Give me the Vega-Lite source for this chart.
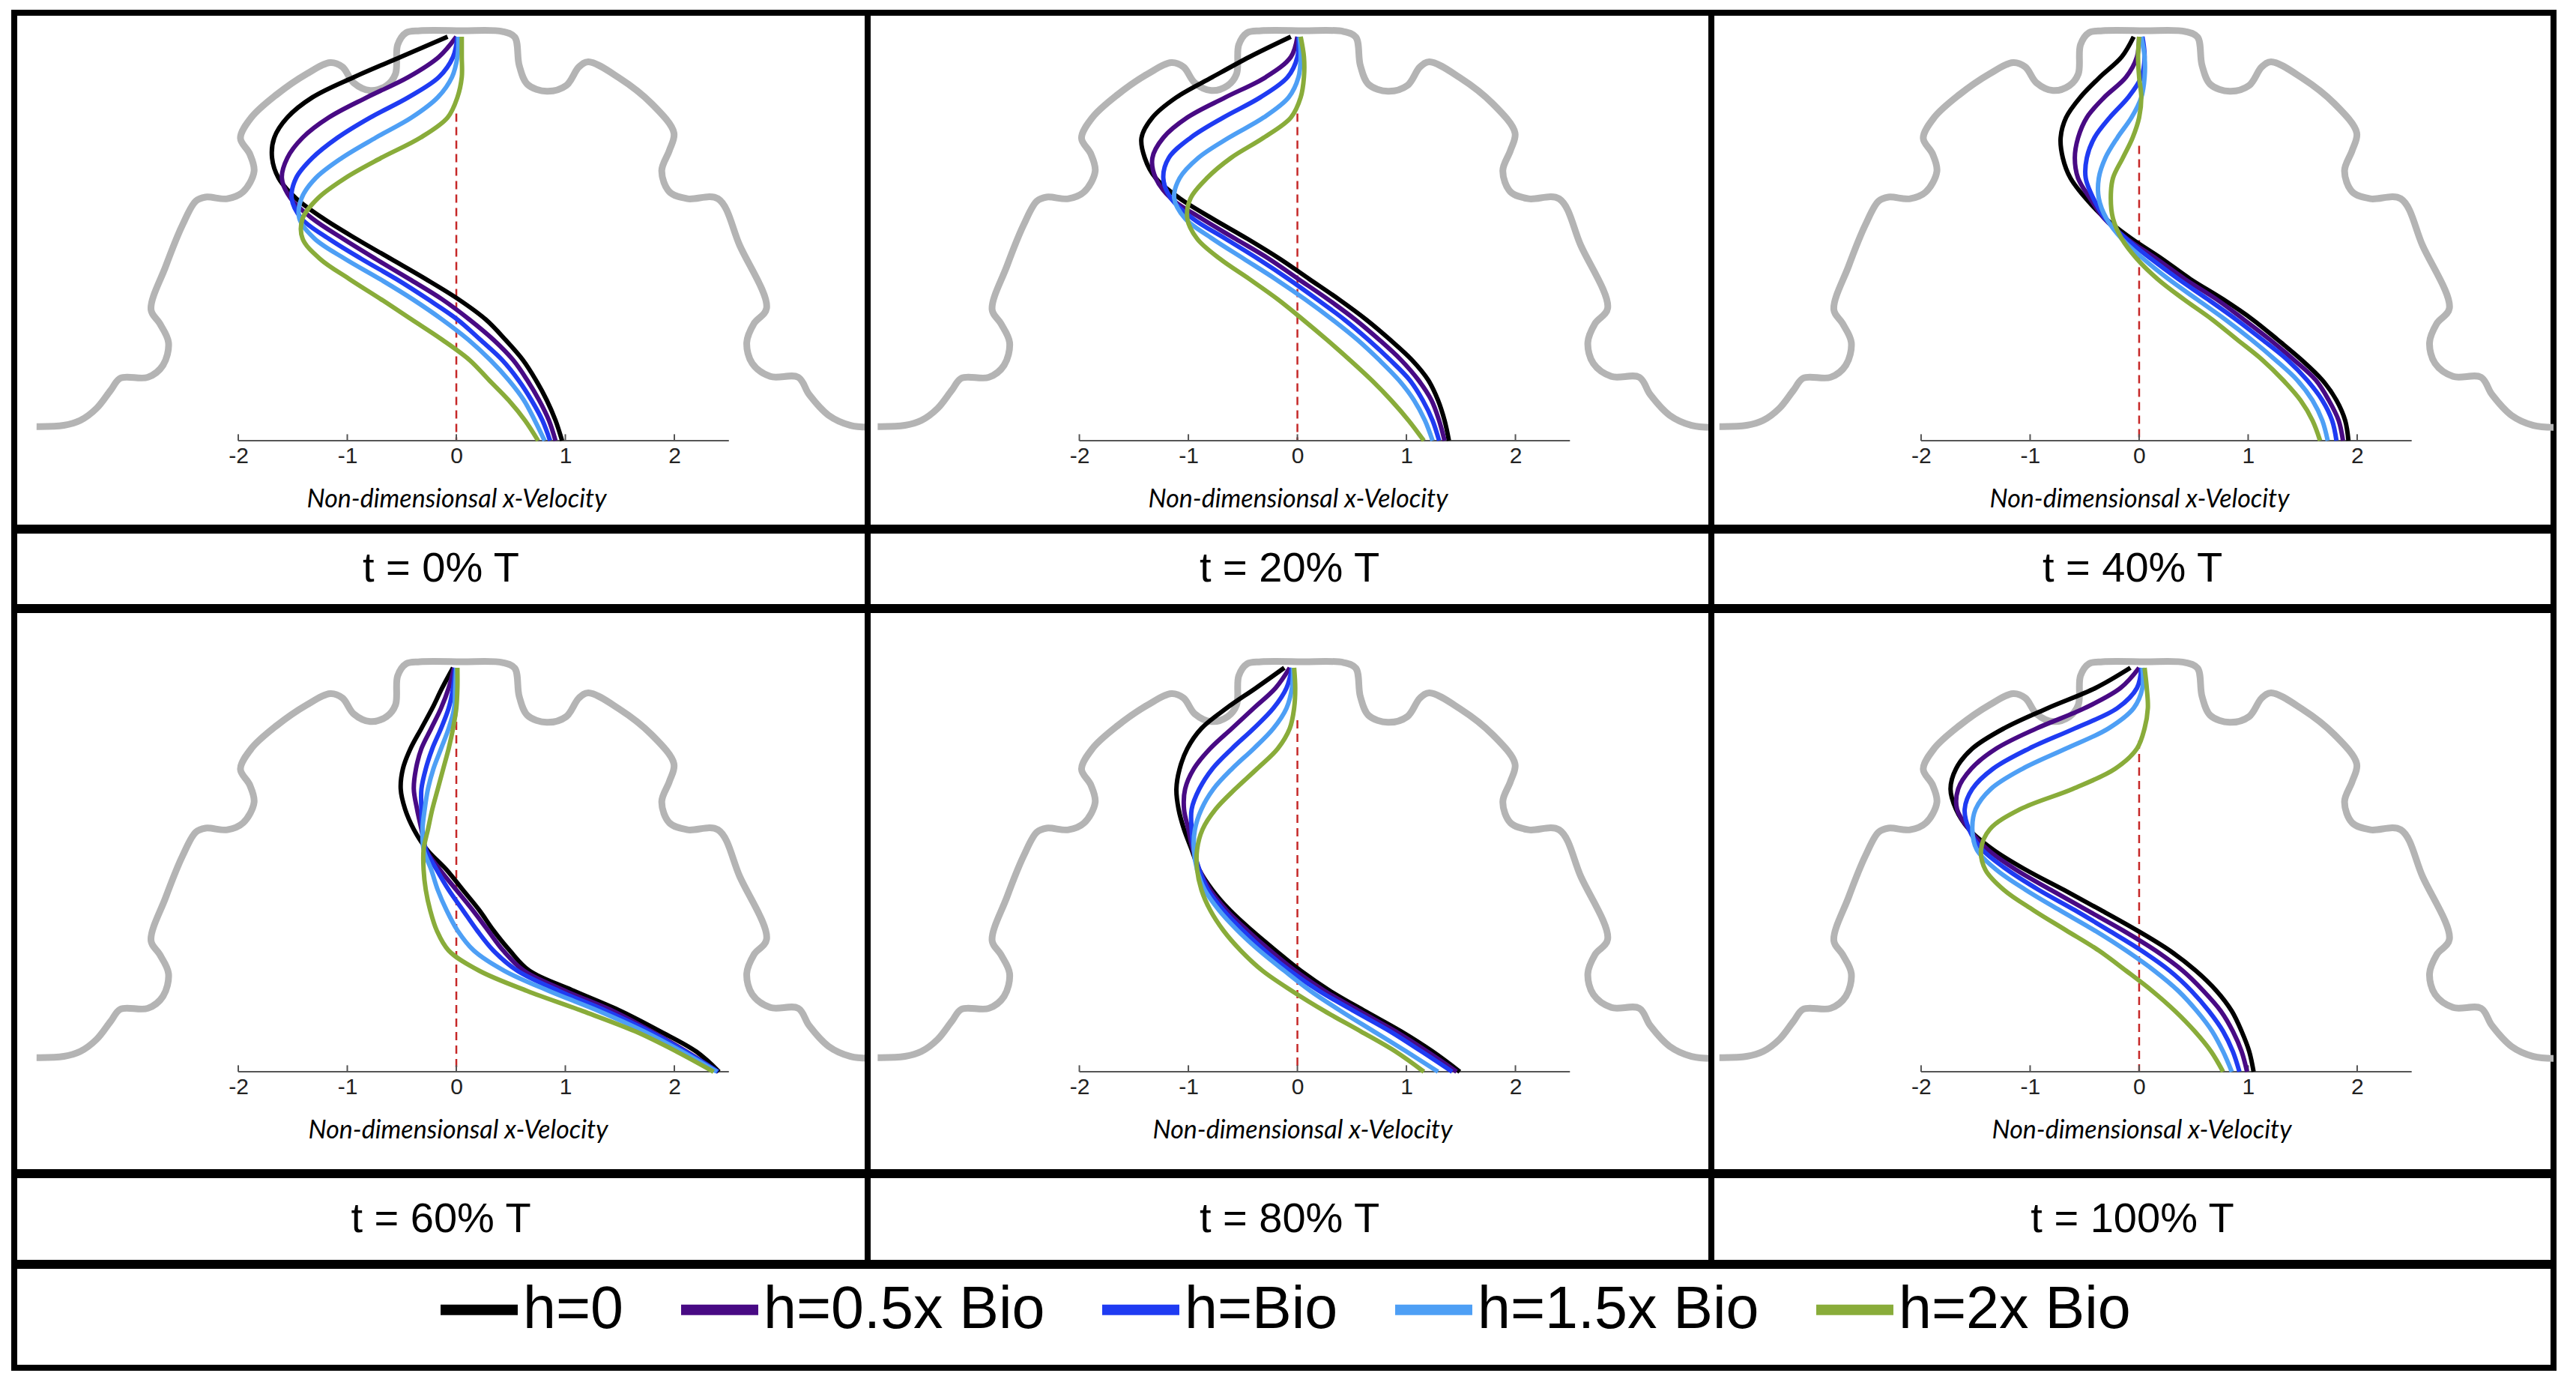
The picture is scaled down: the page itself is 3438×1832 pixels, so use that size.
{
  "$schema": "https://vega.github.io/schema/vega-lite/v6.json",
  "description": "Velocity profiles for five h values at six times of the cycle",
  "background": "white",
  "padding": {"left": 15, "top": 13, "right": 0, "bottom": 0},
  "config": {
    "view": {"stroke": "#000000", "strokeWidth": 8},
    "concat": {"spacing": 0},
    "font": "Liberation Sans"
  },
  "datasets": {
    "ticks": [{"x": -2}, {"x": -1}, {"x": 0}, {"x": 1}, {"x": 2}],
    "zero": [{"p": 1, "top": 0.81}, {"p": 2, "top": 0.81}, {"p": 3, "top": 0.73}, {"p": 4, "top": 0.9}, {"p": 5, "top": 0.87}, {"p": 6, "top": 0.82}],
    "outline": [
      {"i": 0, "x": -3.85, "y": 0.035}, {"i": 1, "x": -3.6, "y": 0.038}, {"i": 2, "x": -3.45, "y": 0.05}, {"i": 3, "x": -3.3, "y": 0.08},
      {"i": 4, "x": -3.17, "y": 0.125}, {"i": 5, "x": -3.08, "y": 0.155}, {"i": 6, "x": -2.83, "y": 0.157}, {"i": 7, "x": -2.69, "y": 0.187},
      {"i": 8, "x": -2.64, "y": 0.243}, {"i": 9, "x": -2.72, "y": 0.29}, {"i": 10, "x": -2.8, "y": 0.324}, {"i": 11, "x": -2.665, "y": 0.432},
      {"i": 12, "x": -2.51, "y": 0.535}, {"i": 13, "x": -2.39, "y": 0.593}, {"i": 14, "x": -2.3, "y": 0.603}, {"i": 15, "x": -2.1, "y": 0.599},
      {"i": 16, "x": -1.956, "y": 0.616}, {"i": 17, "x": -1.855, "y": 0.667}, {"i": 18, "x": -1.895, "y": 0.71}, {"i": 19, "x": -1.98, "y": 0.749},
      {"i": 20, "x": -1.88, "y": 0.8}, {"i": 21, "x": -1.652, "y": 0.856}, {"i": 22, "x": -1.373, "y": 0.908}, {"i": 23, "x": -1.155, "y": 0.936},
      {"i": 24, "x": -1.044, "y": 0.925}, {"i": 25, "x": -0.942, "y": 0.886}, {"i": 26, "x": -0.79, "y": 0.867}, {"i": 27, "x": -0.64, "y": 0.879},
      {"i": 28, "x": -0.558, "y": 0.908}, {"i": 29, "x": -0.538, "y": 0.98}, {"i": 30, "x": -0.46, "y": 1.01}, {"i": 31, "x": -0.335, "y": 1.015},
      {"i": 32, "x": 0.045, "y": 1.015}, {"i": 33, "x": 0.425, "y": 1.013}, {"i": 34, "x": 0.536, "y": 0.999}, {"i": 35, "x": 0.577, "y": 0.929},
      {"i": 36, "x": 0.653, "y": 0.882}, {"i": 37, "x": 0.83, "y": 0.865}, {"i": 38, "x": 1.008, "y": 0.879}, {"i": 39, "x": 1.124, "y": 0.925},
      {"i": 40, "x": 1.21, "y": 0.938}, {"i": 41, "x": 1.489, "y": 0.899}, {"i": 42, "x": 1.793, "y": 0.834}, {"i": 43, "x": 1.996, "y": 0.762},
      {"i": 44, "x": 1.955, "y": 0.719}, {"i": 45, "x": 1.884, "y": 0.668}, {"i": 46, "x": 1.955, "y": 0.616}, {"i": 47, "x": 2.12, "y": 0.599},
      {"i": 48, "x": 2.4, "y": 0.599}, {"i": 49, "x": 2.6, "y": 0.483}, {"i": 50, "x": 2.846, "y": 0.328}, {"i": 51, "x": 2.73, "y": 0.29},
      {"i": 52, "x": 2.664, "y": 0.243}, {"i": 53, "x": 2.715, "y": 0.191}, {"i": 54, "x": 2.88, "y": 0.159}, {"i": 55, "x": 3.136, "y": 0.157},
      {"i": 56, "x": 3.237, "y": 0.114}, {"i": 57, "x": 3.414, "y": 0.063}, {"i": 58, "x": 3.616, "y": 0.038}, {"i": 59, "x": 3.85, "y": 0.033}
    ],
    "curves": [
      {"p":1,"h":"h=0","y":1,"x":-0.08},{"p":1,"h":"h=0","y":0.95,"x":-0.51},{"p":1,"h":"h=0","y":0.9,"x":-0.94},{"p":1,"h":"h=0","y":0.85,"x":-1.32},{"p":1,"h":"h=0","y":0.8,"x":-1.55},{"p":1,"h":"h=0","y":0.75,"x":-1.67},{"p":1,"h":"h=0","y":0.7,"x":-1.69},{"p":1,"h":"h=0","y":0.65,"x":-1.63},{"p":1,"h":"h=0","y":0.6,"x":-1.47},{"p":1,"h":"h=0","y":0.55,"x":-1.22},{"p":1,"h":"h=0","y":0.5,"x":-0.92},{"p":1,"h":"h=0","y":0.45,"x":-0.6},{"p":1,"h":"h=0","y":0.4,"x":-0.28},{"p":1,"h":"h=0","y":0.35,"x":0.02},{"p":1,"h":"h=0","y":0.3,"x":0.27},{"p":1,"h":"h=0","y":0.25,"x":0.45},{"p":1,"h":"h=0","y":0.2,"x":0.61},{"p":1,"h":"h=0","y":0.15,"x":0.73},{"p":1,"h":"h=0","y":0.1,"x":0.83},{"p":1,"h":"h=0","y":0.05,"x":0.91},{"p":1,"h":"h=0","y":0,"x":0.97},
      {"p":1,"h":"h=0.5x Bio","y":1,"x":0},{"p":1,"h":"h=0.5x Bio","y":0.95,"x":-0.16},{"p":1,"h":"h=0.5x Bio","y":0.9,"x":-0.44},{"p":1,"h":"h=0.5x Bio","y":0.85,"x":-0.82},{"p":1,"h":"h=0.5x Bio","y":0.8,"x":-1.17},{"p":1,"h":"h=0.5x Bio","y":0.75,"x":-1.41},{"p":1,"h":"h=0.5x Bio","y":0.7,"x":-1.55},{"p":1,"h":"h=0.5x Bio","y":0.65,"x":-1.6},{"p":1,"h":"h=0.5x Bio","y":0.6,"x":-1.52},{"p":1,"h":"h=0.5x Bio","y":0.55,"x":-1.32},{"p":1,"h":"h=0.5x Bio","y":0.5,"x":-1.04},{"p":1,"h":"h=0.5x Bio","y":0.45,"x":-0.74},{"p":1,"h":"h=0.5x Bio","y":0.4,"x":-0.43},{"p":1,"h":"h=0.5x Bio","y":0.35,"x":-0.13},{"p":1,"h":"h=0.5x Bio","y":0.3,"x":0.12},{"p":1,"h":"h=0.5x Bio","y":0.25,"x":0.34},{"p":1,"h":"h=0.5x Bio","y":0.2,"x":0.52},{"p":1,"h":"h=0.5x Bio","y":0.15,"x":0.65},{"p":1,"h":"h=0.5x Bio","y":0.1,"x":0.76},{"p":1,"h":"h=0.5x Bio","y":0.05,"x":0.85},{"p":1,"h":"h=0.5x Bio","y":0,"x":0.91},
      {"p":1,"h":"h=Bio","y":1,"x":0.01},{"p":1,"h":"h=Bio","y":0.95,"x":-0.03},{"p":1,"h":"h=Bio","y":0.9,"x":-0.16},{"p":1,"h":"h=Bio","y":0.85,"x":-0.44},{"p":1,"h":"h=Bio","y":0.8,"x":-0.79},{"p":1,"h":"h=Bio","y":0.75,"x":-1.09},{"p":1,"h":"h=Bio","y":0.7,"x":-1.32},{"p":1,"h":"h=Bio","y":0.65,"x":-1.47},{"p":1,"h":"h=Bio","y":0.6,"x":-1.51},{"p":1,"h":"h=Bio","y":0.55,"x":-1.42},{"p":1,"h":"h=Bio","y":0.5,"x":-1.17},{"p":1,"h":"h=Bio","y":0.45,"x":-0.87},{"p":1,"h":"h=Bio","y":0.4,"x":-0.55},{"p":1,"h":"h=Bio","y":0.35,"x":-0.26},{"p":1,"h":"h=Bio","y":0.3,"x":0.01},{"p":1,"h":"h=Bio","y":0.25,"x":0.22},{"p":1,"h":"h=Bio","y":0.2,"x":0.42},{"p":1,"h":"h=Bio","y":0.15,"x":0.57},{"p":1,"h":"h=Bio","y":0.1,"x":0.69},{"p":1,"h":"h=Bio","y":0.05,"x":0.79},{"p":1,"h":"h=Bio","y":0,"x":0.86},
      {"p":1,"h":"h=1.5x Bio","y":1,"x":0.02},{"p":1,"h":"h=1.5x Bio","y":0.95,"x":0.01},{"p":1,"h":"h=1.5x Bio","y":0.9,"x":-0.04},{"p":1,"h":"h=1.5x Bio","y":0.85,"x":-0.17},{"p":1,"h":"h=1.5x Bio","y":0.8,"x":-0.41},{"p":1,"h":"h=1.5x Bio","y":0.75,"x":-0.74},{"p":1,"h":"h=1.5x Bio","y":0.7,"x":-1.05},{"p":1,"h":"h=1.5x Bio","y":0.65,"x":-1.29},{"p":1,"h":"h=1.5x Bio","y":0.6,"x":-1.42},{"p":1,"h":"h=1.5x Bio","y":0.55,"x":-1.44},{"p":1,"h":"h=1.5x Bio","y":0.5,"x":-1.3},{"p":1,"h":"h=1.5x Bio","y":0.45,"x":-1.02},{"p":1,"h":"h=1.5x Bio","y":0.4,"x":-0.7},{"p":1,"h":"h=1.5x Bio","y":0.35,"x":-0.4},{"p":1,"h":"h=1.5x Bio","y":0.3,"x":-0.13},{"p":1,"h":"h=1.5x Bio","y":0.25,"x":0.11},{"p":1,"h":"h=1.5x Bio","y":0.2,"x":0.31},{"p":1,"h":"h=1.5x Bio","y":0.15,"x":0.48},{"p":1,"h":"h=1.5x Bio","y":0.1,"x":0.62},{"p":1,"h":"h=1.5x Bio","y":0.05,"x":0.72},{"p":1,"h":"h=1.5x Bio","y":0,"x":0.81},
      {"p":1,"h":"h=2x Bio","y":1,"x":0.05},{"p":1,"h":"h=2x Bio","y":0.95,"x":0.05},{"p":1,"h":"h=2x Bio","y":0.9,"x":0.05},{"p":1,"h":"h=2x Bio","y":0.85,"x":0.01},{"p":1,"h":"h=2x Bio","y":0.8,"x":-0.08},{"p":1,"h":"h=2x Bio","y":0.75,"x":-0.33},{"p":1,"h":"h=2x Bio","y":0.7,"x":-0.69},{"p":1,"h":"h=2x Bio","y":0.65,"x":-1.02},{"p":1,"h":"h=2x Bio","y":0.6,"x":-1.27},{"p":1,"h":"h=2x Bio","y":0.55,"x":-1.41},{"p":1,"h":"h=2x Bio","y":0.5,"x":-1.41},{"p":1,"h":"h=2x Bio","y":0.45,"x":-1.25},{"p":1,"h":"h=2x Bio","y":0.4,"x":-0.98},{"p":1,"h":"h=2x Bio","y":0.35,"x":-0.69},{"p":1,"h":"h=2x Bio","y":0.3,"x":-0.41},{"p":1,"h":"h=2x Bio","y":0.25,"x":-0.13},{"p":1,"h":"h=2x Bio","y":0.2,"x":0.12},{"p":1,"h":"h=2x Bio","y":0.15,"x":0.3},{"p":1,"h":"h=2x Bio","y":0.1,"x":0.48},{"p":1,"h":"h=2x Bio","y":0.05,"x":0.63},{"p":1,"h":"h=2x Bio","y":0,"x":0.75},

      {"p":2,"h":"h=0","y":1,"x":-0.06},{"p":2,"h":"h=0","y":0.95,"x":-0.44},{"p":2,"h":"h=0","y":0.9,"x":-0.78},{"p":2,"h":"h=0","y":0.85,"x":-1.11},{"p":2,"h":"h=0","y":0.8,"x":-1.33},{"p":2,"h":"h=0","y":0.75,"x":-1.43},{"p":2,"h":"h=0","y":0.7,"x":-1.4},{"p":2,"h":"h=0","y":0.65,"x":-1.3},{"p":2,"h":"h=0","y":0.6,"x":-1.08},{"p":2,"h":"h=0","y":0.55,"x":-0.78},{"p":2,"h":"h=0","y":0.5,"x":-0.46},{"p":2,"h":"h=0","y":0.45,"x":-0.16},{"p":2,"h":"h=0","y":0.4,"x":0.11},{"p":2,"h":"h=0","y":0.35,"x":0.38},{"p":2,"h":"h=0","y":0.3,"x":0.63},{"p":2,"h":"h=0","y":0.25,"x":0.85},{"p":2,"h":"h=0","y":0.2,"x":1.05},{"p":2,"h":"h=0","y":0.15,"x":1.2},{"p":2,"h":"h=0","y":0.1,"x":1.29},{"p":2,"h":"h=0","y":0.05,"x":1.35},{"p":2,"h":"h=0","y":0,"x":1.39},
      {"p":2,"h":"h=0.5x Bio","y":1,"x":0},{"p":2,"h":"h=0.5x Bio","y":0.95,"x":-0.06},{"p":2,"h":"h=0.5x Bio","y":0.9,"x":-0.29},{"p":2,"h":"h=0.5x Bio","y":0.85,"x":-0.66},{"p":2,"h":"h=0.5x Bio","y":0.8,"x":-1.01},{"p":2,"h":"h=0.5x Bio","y":0.75,"x":-1.23},{"p":2,"h":"h=0.5x Bio","y":0.7,"x":-1.33},{"p":2,"h":"h=0.5x Bio","y":0.65,"x":-1.3},{"p":2,"h":"h=0.5x Bio","y":0.6,"x":-1.16},{"p":2,"h":"h=0.5x Bio","y":0.55,"x":-0.88},{"p":2,"h":"h=0.5x Bio","y":0.5,"x":-0.57},{"p":2,"h":"h=0.5x Bio","y":0.45,"x":-0.26},{"p":2,"h":"h=0.5x Bio","y":0.4,"x":0.01},{"p":2,"h":"h=0.5x Bio","y":0.35,"x":0.28},{"p":2,"h":"h=0.5x Bio","y":0.3,"x":0.53},{"p":2,"h":"h=0.5x Bio","y":0.25,"x":0.75},{"p":2,"h":"h=0.5x Bio","y":0.2,"x":0.95},{"p":2,"h":"h=0.5x Bio","y":0.15,"x":1.11},{"p":2,"h":"h=0.5x Bio","y":0.1,"x":1.23},{"p":2,"h":"h=0.5x Bio","y":0.05,"x":1.3},{"p":2,"h":"h=0.5x Bio","y":0,"x":1.35},
      {"p":2,"h":"h=Bio","y":1,"x":0.01},{"p":2,"h":"h=Bio","y":0.95,"x":0},{"p":2,"h":"h=Bio","y":0.9,"x":-0.09},{"p":2,"h":"h=Bio","y":0.85,"x":-0.34},{"p":2,"h":"h=Bio","y":0.8,"x":-0.68},{"p":2,"h":"h=Bio","y":0.75,"x":-0.98},{"p":2,"h":"h=Bio","y":0.7,"x":-1.18},{"p":2,"h":"h=Bio","y":0.65,"x":-1.23},{"p":2,"h":"h=Bio","y":0.6,"x":-1.16},{"p":2,"h":"h=Bio","y":0.55,"x":-0.96},{"p":2,"h":"h=Bio","y":0.5,"x":-0.66},{"p":2,"h":"h=Bio","y":0.45,"x":-0.36},{"p":2,"h":"h=Bio","y":0.4,"x":-0.08},{"p":2,"h":"h=Bio","y":0.35,"x":0.18},{"p":2,"h":"h=Bio","y":0.3,"x":0.43},{"p":2,"h":"h=Bio","y":0.25,"x":0.65},{"p":2,"h":"h=Bio","y":0.2,"x":0.85},{"p":2,"h":"h=Bio","y":0.15,"x":1.03},{"p":2,"h":"h=Bio","y":0.1,"x":1.15},{"p":2,"h":"h=Bio","y":0.05,"x":1.24},{"p":2,"h":"h=Bio","y":0,"x":1.3},
      {"p":2,"h":"h=1.5x Bio","y":1,"x":0.02},{"p":2,"h":"h=1.5x Bio","y":0.95,"x":0.03},{"p":2,"h":"h=1.5x Bio","y":0.9,"x":0.01},{"p":2,"h":"h=1.5x Bio","y":0.85,"x":-0.08},{"p":2,"h":"h=1.5x Bio","y":0.8,"x":-0.31},{"p":2,"h":"h=1.5x Bio","y":0.75,"x":-0.63},{"p":2,"h":"h=1.5x Bio","y":0.7,"x":-0.91},{"p":2,"h":"h=1.5x Bio","y":0.65,"x":-1.08},{"p":2,"h":"h=1.5x Bio","y":0.6,"x":-1.13},{"p":2,"h":"h=1.5x Bio","y":0.55,"x":-1.03},{"p":2,"h":"h=1.5x Bio","y":0.5,"x":-0.78},{"p":2,"h":"h=1.5x Bio","y":0.45,"x":-0.49},{"p":2,"h":"h=1.5x Bio","y":0.4,"x":-0.2},{"p":2,"h":"h=1.5x Bio","y":0.35,"x":0.07},{"p":2,"h":"h=1.5x Bio","y":0.3,"x":0.32},{"p":2,"h":"h=1.5x Bio","y":0.25,"x":0.55},{"p":2,"h":"h=1.5x Bio","y":0.2,"x":0.75},{"p":2,"h":"h=1.5x Bio","y":0.15,"x":0.93},{"p":2,"h":"h=1.5x Bio","y":0.1,"x":1.07},{"p":2,"h":"h=1.5x Bio","y":0.05,"x":1.17},{"p":2,"h":"h=1.5x Bio","y":0,"x":1.24},
      {"p":2,"h":"h=2x Bio","y":1,"x":0.03},{"p":2,"h":"h=2x Bio","y":0.95,"x":0.06},{"p":2,"h":"h=2x Bio","y":0.9,"x":0.06},{"p":2,"h":"h=2x Bio","y":0.85,"x":0.03},{"p":2,"h":"h=2x Bio","y":0.8,"x":-0.06},{"p":2,"h":"h=2x Bio","y":0.75,"x":-0.31},{"p":2,"h":"h=2x Bio","y":0.7,"x":-0.61},{"p":2,"h":"h=2x Bio","y":0.65,"x":-0.83},{"p":2,"h":"h=2x Bio","y":0.6,"x":-0.98},{"p":2,"h":"h=2x Bio","y":0.55,"x":-1.01},{"p":2,"h":"h=2x Bio","y":0.5,"x":-0.92},{"p":2,"h":"h=2x Bio","y":0.45,"x":-0.71},{"p":2,"h":"h=2x Bio","y":0.4,"x":-0.44},{"p":2,"h":"h=2x Bio","y":0.35,"x":-0.18},{"p":2,"h":"h=2x Bio","y":0.3,"x":0.05},{"p":2,"h":"h=2x Bio","y":0.25,"x":0.27},{"p":2,"h":"h=2x Bio","y":0.2,"x":0.48},{"p":2,"h":"h=2x Bio","y":0.15,"x":0.68},{"p":2,"h":"h=2x Bio","y":0.1,"x":0.86},{"p":2,"h":"h=2x Bio","y":0.05,"x":1.02},{"p":2,"h":"h=2x Bio","y":0,"x":1.16},

      {"p":3,"h":"h=0","y":1,"x":-0.05},{"p":3,"h":"h=0","y":0.95,"x":-0.16},{"p":3,"h":"h=0","y":0.9,"x":-0.36},{"p":3,"h":"h=0","y":0.85,"x":-0.54},{"p":3,"h":"h=0","y":0.8,"x":-0.67},{"p":3,"h":"h=0","y":0.75,"x":-0.72},{"p":3,"h":"h=0","y":0.7,"x":-0.7},{"p":3,"h":"h=0","y":0.65,"x":-0.63},{"p":3,"h":"h=0","y":0.6,"x":-0.49},{"p":3,"h":"h=0","y":0.55,"x":-0.31},{"p":3,"h":"h=0","y":0.5,"x":-0.07},{"p":3,"h":"h=0","y":0.45,"x":0.21},{"p":3,"h":"h=0","y":0.4,"x":0.47},{"p":3,"h":"h=0","y":0.35,"x":0.77},{"p":3,"h":"h=0","y":0.3,"x":1.04},{"p":3,"h":"h=0","y":0.25,"x":1.27},{"p":3,"h":"h=0","y":0.2,"x":1.49},{"p":3,"h":"h=0","y":0.15,"x":1.68},{"p":3,"h":"h=0","y":0.1,"x":1.81},{"p":3,"h":"h=0","y":0.05,"x":1.89},{"p":3,"h":"h=0","y":0,"x":1.92},
      {"p":3,"h":"h=0.5x Bio","y":1,"x":0},{"p":3,"h":"h=0.5x Bio","y":0.95,"x":-0.02},{"p":3,"h":"h=0.5x Bio","y":0.9,"x":-0.12},{"p":3,"h":"h=0.5x Bio","y":0.85,"x":-0.32},{"p":3,"h":"h=0.5x Bio","y":0.8,"x":-0.48},{"p":3,"h":"h=0.5x Bio","y":0.75,"x":-0.56},{"p":3,"h":"h=0.5x Bio","y":0.7,"x":-0.59},{"p":3,"h":"h=0.5x Bio","y":0.65,"x":-0.56},{"p":3,"h":"h=0.5x Bio","y":0.6,"x":-0.45},{"p":3,"h":"h=0.5x Bio","y":0.55,"x":-0.32},{"p":3,"h":"h=0.5x Bio","y":0.5,"x":-0.11},{"p":3,"h":"h=0.5x Bio","y":0.45,"x":0.16},{"p":3,"h":"h=0.5x Bio","y":0.4,"x":0.42},{"p":3,"h":"h=0.5x Bio","y":0.35,"x":0.71},{"p":3,"h":"h=0.5x Bio","y":0.3,"x":0.96},{"p":3,"h":"h=0.5x Bio","y":0.25,"x":1.2},{"p":3,"h":"h=0.5x Bio","y":0.2,"x":1.42},{"p":3,"h":"h=0.5x Bio","y":0.15,"x":1.62},{"p":3,"h":"h=0.5x Bio","y":0.1,"x":1.74},{"p":3,"h":"h=0.5x Bio","y":0.05,"x":1.83},{"p":3,"h":"h=0.5x Bio","y":0,"x":1.87},
      {"p":3,"h":"h=Bio","y":1,"x":0.03},{"p":3,"h":"h=Bio","y":0.95,"x":0.05},{"p":3,"h":"h=Bio","y":0.9,"x":0.02},{"p":3,"h":"h=Bio","y":0.85,"x":-0.1},{"p":3,"h":"h=Bio","y":0.8,"x":-0.27},{"p":3,"h":"h=Bio","y":0.75,"x":-0.41},{"p":3,"h":"h=Bio","y":0.7,"x":-0.48},{"p":3,"h":"h=Bio","y":0.65,"x":-0.49},{"p":3,"h":"h=Bio","y":0.6,"x":-0.42},{"p":3,"h":"h=Bio","y":0.55,"x":-0.31},{"p":3,"h":"h=Bio","y":0.5,"x":-0.12},{"p":3,"h":"h=Bio","y":0.45,"x":0.11},{"p":3,"h":"h=Bio","y":0.4,"x":0.36},{"p":3,"h":"h=Bio","y":0.35,"x":0.63},{"p":3,"h":"h=Bio","y":0.3,"x":0.89},{"p":3,"h":"h=Bio","y":0.25,"x":1.13},{"p":3,"h":"h=Bio","y":0.2,"x":1.36},{"p":3,"h":"h=Bio","y":0.15,"x":1.54},{"p":3,"h":"h=Bio","y":0.1,"x":1.68},{"p":3,"h":"h=Bio","y":0.05,"x":1.77},{"p":3,"h":"h=Bio","y":0,"x":1.81},
      {"p":3,"h":"h=1.5x Bio","y":1,"x":0.02},{"p":3,"h":"h=1.5x Bio","y":0.95,"x":0.05},{"p":3,"h":"h=1.5x Bio","y":0.9,"x":0.05},{"p":3,"h":"h=1.5x Bio","y":0.85,"x":0.02},{"p":3,"h":"h=1.5x Bio","y":0.8,"x":-0.07},{"p":3,"h":"h=1.5x Bio","y":0.75,"x":-0.2},{"p":3,"h":"h=1.5x Bio","y":0.7,"x":-0.31},{"p":3,"h":"h=1.5x Bio","y":0.65,"x":-0.37},{"p":3,"h":"h=1.5x Bio","y":0.6,"x":-0.37},{"p":3,"h":"h=1.5x Bio","y":0.55,"x":-0.3},{"p":3,"h":"h=1.5x Bio","y":0.5,"x":-0.16},{"p":3,"h":"h=1.5x Bio","y":0.45,"x":0.04},{"p":3,"h":"h=1.5x Bio","y":0.4,"x":0.27},{"p":3,"h":"h=1.5x Bio","y":0.35,"x":0.53},{"p":3,"h":"h=1.5x Bio","y":0.3,"x":0.79},{"p":3,"h":"h=1.5x Bio","y":0.25,"x":1.03},{"p":3,"h":"h=1.5x Bio","y":0.2,"x":1.25},{"p":3,"h":"h=1.5x Bio","y":0.15,"x":1.45},{"p":3,"h":"h=1.5x Bio","y":0.1,"x":1.59},{"p":3,"h":"h=1.5x Bio","y":0.05,"x":1.68},{"p":3,"h":"h=1.5x Bio","y":0,"x":1.73},
      {"p":3,"h":"h=2x Bio","y":1,"x":0},{"p":3,"h":"h=2x Bio","y":0.95,"x":-0.01},{"p":3,"h":"h=2x Bio","y":0.9,"x":0},{"p":3,"h":"h=2x Bio","y":0.85,"x":0.02},{"p":3,"h":"h=2x Bio","y":0.8,"x":0},{"p":3,"h":"h=2x Bio","y":0.75,"x":-0.06},{"p":3,"h":"h=2x Bio","y":0.7,"x":-0.15},{"p":3,"h":"h=2x Bio","y":0.65,"x":-0.24},{"p":3,"h":"h=2x Bio","y":0.6,"x":-0.26},{"p":3,"h":"h=2x Bio","y":0.55,"x":-0.24},{"p":3,"h":"h=2x Bio","y":0.5,"x":-0.16},{"p":3,"h":"h=2x Bio","y":0.45,"x":-0.02},{"p":3,"h":"h=2x Bio","y":0.4,"x":0.17},{"p":3,"h":"h=2x Bio","y":0.35,"x":0.41},{"p":3,"h":"h=2x Bio","y":0.3,"x":0.67},{"p":3,"h":"h=2x Bio","y":0.25,"x":0.9},{"p":3,"h":"h=2x Bio","y":0.2,"x":1.13},{"p":3,"h":"h=2x Bio","y":0.15,"x":1.32},{"p":3,"h":"h=2x Bio","y":0.1,"x":1.48},{"p":3,"h":"h=2x Bio","y":0.05,"x":1.59},{"p":3,"h":"h=2x Bio","y":0,"x":1.66},

      {"p":4,"h":"h=0","y":1,"x":-0.03},{"p":4,"h":"h=0","y":0.95,"x":-0.13},{"p":4,"h":"h=0","y":0.9,"x":-0.22},{"p":4,"h":"h=0","y":0.85,"x":-0.32},{"p":4,"h":"h=0","y":0.8,"x":-0.42},{"p":4,"h":"h=0","y":0.75,"x":-0.49},{"p":4,"h":"h=0","y":0.7,"x":-0.51},{"p":4,"h":"h=0","y":0.65,"x":-0.47},{"p":4,"h":"h=0","y":0.6,"x":-0.39},{"p":4,"h":"h=0","y":0.55,"x":-0.27},{"p":4,"h":"h=0","y":0.5,"x":-0.09},{"p":4,"h":"h=0","y":0.45,"x":0.06},{"p":4,"h":"h=0","y":0.4,"x":0.21},{"p":4,"h":"h=0","y":0.35,"x":0.34},{"p":4,"h":"h=0","y":0.3,"x":0.49},{"p":4,"h":"h=0","y":0.25,"x":0.67},{"p":4,"h":"h=0","y":0.2,"x":1.08},{"p":4,"h":"h=0","y":0.15,"x":1.51},{"p":4,"h":"h=0","y":0.1,"x":1.87},{"p":4,"h":"h=0","y":0.05,"x":2.2},{"p":4,"h":"h=0","y":0,"x":2.41},
      {"p":4,"h":"h=0.5x Bio","y":1,"x":-0.02},{"p":4,"h":"h=0.5x Bio","y":0.95,"x":-0.07},{"p":4,"h":"h=0.5x Bio","y":0.9,"x":-0.14},{"p":4,"h":"h=0.5x Bio","y":0.85,"x":-0.23},{"p":4,"h":"h=0.5x Bio","y":0.8,"x":-0.32},{"p":4,"h":"h=0.5x Bio","y":0.75,"x":-0.37},{"p":4,"h":"h=0.5x Bio","y":0.7,"x":-0.39},{"p":4,"h":"h=0.5x Bio","y":0.65,"x":-0.36},{"p":4,"h":"h=0.5x Bio","y":0.6,"x":-0.32},{"p":4,"h":"h=0.5x Bio","y":0.55,"x":-0.28},{"p":4,"h":"h=0.5x Bio","y":0.5,"x":-0.15},{"p":4,"h":"h=0.5x Bio","y":0.45,"x":0},{"p":4,"h":"h=0.5x Bio","y":0.4,"x":0.15},{"p":4,"h":"h=0.5x Bio","y":0.35,"x":0.29},{"p":4,"h":"h=0.5x Bio","y":0.3,"x":0.43},{"p":4,"h":"h=0.5x Bio","y":0.25,"x":0.62},{"p":4,"h":"h=0.5x Bio","y":0.2,"x":1},{"p":4,"h":"h=0.5x Bio","y":0.15,"x":1.44},{"p":4,"h":"h=0.5x Bio","y":0.1,"x":1.79},{"p":4,"h":"h=0.5x Bio","y":0.05,"x":2.11},{"p":4,"h":"h=0.5x Bio","y":0,"x":2.4},
      {"p":4,"h":"h=Bio","y":1,"x":-0.01},{"p":4,"h":"h=Bio","y":0.95,"x":-0.03},{"p":4,"h":"h=Bio","y":0.9,"x":-0.07},{"p":4,"h":"h=Bio","y":0.85,"x":-0.14},{"p":4,"h":"h=Bio","y":0.8,"x":-0.22},{"p":4,"h":"h=Bio","y":0.75,"x":-0.28},{"p":4,"h":"h=Bio","y":0.7,"x":-0.32},{"p":4,"h":"h=Bio","y":0.65,"x":-0.32},{"p":4,"h":"h=Bio","y":0.6,"x":-0.31},{"p":4,"h":"h=Bio","y":0.55,"x":-0.28},{"p":4,"h":"h=Bio","y":0.5,"x":-0.18},{"p":4,"h":"h=Bio","y":0.45,"x":-0.07},{"p":4,"h":"h=Bio","y":0.4,"x":0.06},{"p":4,"h":"h=Bio","y":0.35,"x":0.19},{"p":4,"h":"h=Bio","y":0.3,"x":0.34},{"p":4,"h":"h=Bio","y":0.25,"x":0.56},{"p":4,"h":"h=Bio","y":0.2,"x":0.94},{"p":4,"h":"h=Bio","y":0.15,"x":1.38},{"p":4,"h":"h=Bio","y":0.1,"x":1.77},{"p":4,"h":"h=Bio","y":0.05,"x":2.1},{"p":4,"h":"h=Bio","y":0,"x":2.4},
      {"p":4,"h":"h=1.5x Bio","y":1,"x":0},{"p":4,"h":"h=1.5x Bio","y":0.95,"x":-0.01},{"p":4,"h":"h=1.5x Bio","y":0.9,"x":-0.02},{"p":4,"h":"h=1.5x Bio","y":0.85,"x":-0.07},{"p":4,"h":"h=1.5x Bio","y":0.8,"x":-0.14},{"p":4,"h":"h=1.5x Bio","y":0.75,"x":-0.21},{"p":4,"h":"h=1.5x Bio","y":0.7,"x":-0.26},{"p":4,"h":"h=1.5x Bio","y":0.65,"x":-0.29},{"p":4,"h":"h=1.5x Bio","y":0.6,"x":-0.31},{"p":4,"h":"h=1.5x Bio","y":0.55,"x":-0.3},{"p":4,"h":"h=1.5x Bio","y":0.5,"x":-0.23},{"p":4,"h":"h=1.5x Bio","y":0.45,"x":-0.17},{"p":4,"h":"h=1.5x Bio","y":0.4,"x":-0.09},{"p":4,"h":"h=1.5x Bio","y":0.35,"x":0.01},{"p":4,"h":"h=1.5x Bio","y":0.3,"x":0.16},{"p":4,"h":"h=1.5x Bio","y":0.25,"x":0.44},{"p":4,"h":"h=1.5x Bio","y":0.2,"x":0.85},{"p":4,"h":"h=1.5x Bio","y":0.15,"x":1.31},{"p":4,"h":"h=1.5x Bio","y":0.1,"x":1.72},{"p":4,"h":"h=1.5x Bio","y":0.05,"x":2.07},{"p":4,"h":"h=1.5x Bio","y":0,"x":2.39},
      {"p":4,"h":"h=2x Bio","y":1,"x":0.01},{"p":4,"h":"h=2x Bio","y":0.95,"x":0.01},{"p":4,"h":"h=2x Bio","y":0.9,"x":0},{"p":4,"h":"h=2x Bio","y":0.85,"x":-0.03},{"p":4,"h":"h=2x Bio","y":0.8,"x":-0.07},{"p":4,"h":"h=2x Bio","y":0.75,"x":-0.12},{"p":4,"h":"h=2x Bio","y":0.7,"x":-0.17},{"p":4,"h":"h=2x Bio","y":0.65,"x":-0.22},{"p":4,"h":"h=2x Bio","y":0.6,"x":-0.26},{"p":4,"h":"h=2x Bio","y":0.55,"x":-0.3},{"p":4,"h":"h=2x Bio","y":0.5,"x":-0.3},{"p":4,"h":"h=2x Bio","y":0.45,"x":-0.28},{"p":4,"h":"h=2x Bio","y":0.4,"x":-0.24},{"p":4,"h":"h=2x Bio","y":0.35,"x":-0.18},{"p":4,"h":"h=2x Bio","y":0.3,"x":-0.07},{"p":4,"h":"h=2x Bio","y":0.25,"x":0.21},{"p":4,"h":"h=2x Bio","y":0.2,"x":0.65},{"p":4,"h":"h=2x Bio","y":0.15,"x":1.16},{"p":4,"h":"h=2x Bio","y":0.1,"x":1.64},{"p":4,"h":"h=2x Bio","y":0.05,"x":2.02},{"p":4,"h":"h=2x Bio","y":0,"x":2.36},

      {"p":5,"h":"h=0","y":1,"x":-0.12},{"p":5,"h":"h=0","y":0.95,"x":-0.38},{"p":5,"h":"h=0","y":0.9,"x":-0.65},{"p":5,"h":"h=0","y":0.85,"x":-0.88},{"p":5,"h":"h=0","y":0.8,"x":-1.01},{"p":5,"h":"h=0","y":0.75,"x":-1.08},{"p":5,"h":"h=0","y":0.7,"x":-1.11},{"p":5,"h":"h=0","y":0.65,"x":-1.09},{"p":5,"h":"h=0","y":0.6,"x":-1.04},{"p":5,"h":"h=0","y":0.55,"x":-0.97},{"p":5,"h":"h=0","y":0.5,"x":-0.9},{"p":5,"h":"h=0","y":0.45,"x":-0.78},{"p":5,"h":"h=0","y":0.4,"x":-0.62},{"p":5,"h":"h=0","y":0.35,"x":-0.42},{"p":5,"h":"h=0","y":0.3,"x":-0.2},{"p":5,"h":"h=0","y":0.25,"x":0.03},{"p":5,"h":"h=0","y":0.2,"x":0.3},{"p":5,"h":"h=0","y":0.15,"x":0.62},{"p":5,"h":"h=0","y":0.1,"x":0.95},{"p":5,"h":"h=0","y":0.05,"x":1.24},{"p":5,"h":"h=0","y":0,"x":1.49},
      {"p":5,"h":"h=0.5x Bio","y":1,"x":-0.07},{"p":5,"h":"h=0.5x Bio","y":0.95,"x":-0.2},{"p":5,"h":"h=0.5x Bio","y":0.9,"x":-0.4},{"p":5,"h":"h=0.5x Bio","y":0.85,"x":-0.6},{"p":5,"h":"h=0.5x Bio","y":0.8,"x":-0.8},{"p":5,"h":"h=0.5x Bio","y":0.75,"x":-0.95},{"p":5,"h":"h=0.5x Bio","y":0.7,"x":-1.03},{"p":5,"h":"h=0.5x Bio","y":0.65,"x":-1.04},{"p":5,"h":"h=0.5x Bio","y":0.6,"x":-1},{"p":5,"h":"h=0.5x Bio","y":0.55,"x":-0.96},{"p":5,"h":"h=0.5x Bio","y":0.5,"x":-0.9},{"p":5,"h":"h=0.5x Bio","y":0.45,"x":-0.8},{"p":5,"h":"h=0.5x Bio","y":0.4,"x":-0.65},{"p":5,"h":"h=0.5x Bio","y":0.35,"x":-0.46},{"p":5,"h":"h=0.5x Bio","y":0.3,"x":-0.25},{"p":5,"h":"h=0.5x Bio","y":0.25,"x":-0.02},{"p":5,"h":"h=0.5x Bio","y":0.2,"x":0.25},{"p":5,"h":"h=0.5x Bio","y":0.15,"x":0.57},{"p":5,"h":"h=0.5x Bio","y":0.1,"x":0.9},{"p":5,"h":"h=0.5x Bio","y":0.05,"x":1.19},{"p":5,"h":"h=0.5x Bio","y":0,"x":1.46},
      {"p":5,"h":"h=Bio","y":1,"x":-0.05},{"p":5,"h":"h=Bio","y":0.95,"x":-0.1},{"p":5,"h":"h=Bio","y":0.9,"x":-0.22},{"p":5,"h":"h=Bio","y":0.85,"x":-0.4},{"p":5,"h":"h=Bio","y":0.8,"x":-0.6},{"p":5,"h":"h=Bio","y":0.75,"x":-0.78},{"p":5,"h":"h=Bio","y":0.7,"x":-0.9},{"p":5,"h":"h=Bio","y":0.65,"x":-0.97},{"p":5,"h":"h=Bio","y":0.6,"x":-0.97},{"p":5,"h":"h=Bio","y":0.55,"x":-0.95},{"p":5,"h":"h=Bio","y":0.5,"x":-0.9},{"p":5,"h":"h=Bio","y":0.45,"x":-0.82},{"p":5,"h":"h=Bio","y":0.4,"x":-0.68},{"p":5,"h":"h=Bio","y":0.35,"x":-0.5},{"p":5,"h":"h=Bio","y":0.3,"x":-0.3},{"p":5,"h":"h=Bio","y":0.25,"x":-0.07},{"p":5,"h":"h=Bio","y":0.2,"x":0.2},{"p":5,"h":"h=Bio","y":0.15,"x":0.52},{"p":5,"h":"h=Bio","y":0.1,"x":0.85},{"p":5,"h":"h=Bio","y":0.05,"x":1.14},{"p":5,"h":"h=Bio","y":0,"x":1.42},
      {"p":5,"h":"h=1.5x Bio","y":1,"x":-0.04},{"p":5,"h":"h=1.5x Bio","y":0.95,"x":-0.05},{"p":5,"h":"h=1.5x Bio","y":0.9,"x":-0.1},{"p":5,"h":"h=1.5x Bio","y":0.85,"x":-0.22},{"p":5,"h":"h=1.5x Bio","y":0.8,"x":-0.4},{"p":5,"h":"h=1.5x Bio","y":0.75,"x":-0.6},{"p":5,"h":"h=1.5x Bio","y":0.7,"x":-0.77},{"p":5,"h":"h=1.5x Bio","y":0.65,"x":-0.88},{"p":5,"h":"h=1.5x Bio","y":0.6,"x":-0.94},{"p":5,"h":"h=1.5x Bio","y":0.55,"x":-0.95},{"p":5,"h":"h=1.5x Bio","y":0.5,"x":-0.92},{"p":5,"h":"h=1.5x Bio","y":0.45,"x":-0.85},{"p":5,"h":"h=1.5x Bio","y":0.4,"x":-0.72},{"p":5,"h":"h=1.5x Bio","y":0.35,"x":-0.55},{"p":5,"h":"h=1.5x Bio","y":0.3,"x":-0.35},{"p":5,"h":"h=1.5x Bio","y":0.25,"x":-0.12},{"p":5,"h":"h=1.5x Bio","y":0.2,"x":0.12},{"p":5,"h":"h=1.5x Bio","y":0.15,"x":0.4},{"p":5,"h":"h=1.5x Bio","y":0.1,"x":0.7},{"p":5,"h":"h=1.5x Bio","y":0.05,"x":1},{"p":5,"h":"h=1.5x Bio","y":0,"x":1.29},
      {"p":5,"h":"h=2x Bio","y":1,"x":-0.03},{"p":5,"h":"h=2x Bio","y":0.95,"x":-0.02},{"p":5,"h":"h=2x Bio","y":0.9,"x":-0.03},{"p":5,"h":"h=2x Bio","y":0.85,"x":-0.07},{"p":5,"h":"h=2x Bio","y":0.8,"x":-0.18},{"p":5,"h":"h=2x Bio","y":0.75,"x":-0.37},{"p":5,"h":"h=2x Bio","y":0.7,"x":-0.57},{"p":5,"h":"h=2x Bio","y":0.65,"x":-0.75},{"p":5,"h":"h=2x Bio","y":0.6,"x":-0.87},{"p":5,"h":"h=2x Bio","y":0.55,"x":-0.92},{"p":5,"h":"h=2x Bio","y":0.5,"x":-0.92},{"p":5,"h":"h=2x Bio","y":0.45,"x":-0.88},{"p":5,"h":"h=2x Bio","y":0.4,"x":-0.8},{"p":5,"h":"h=2x Bio","y":0.35,"x":-0.68},{"p":5,"h":"h=2x Bio","y":0.3,"x":-0.52},{"p":5,"h":"h=2x Bio","y":0.25,"x":-0.32},{"p":5,"h":"h=2x Bio","y":0.2,"x":-0.05},{"p":5,"h":"h=2x Bio","y":0.15,"x":0.25},{"p":5,"h":"h=2x Bio","y":0.1,"x":0.58},{"p":5,"h":"h=2x Bio","y":0.05,"x":0.9},{"p":5,"h":"h=2x Bio","y":0,"x":1.16},

      {"p":6,"h":"h=0","y":1,"x":-0.08},{"p":6,"h":"h=0","y":0.95,"x":-0.4},{"p":6,"h":"h=0","y":0.9,"x":-0.84},{"p":6,"h":"h=0","y":0.85,"x":-1.24},{"p":6,"h":"h=0","y":0.8,"x":-1.53},{"p":6,"h":"h=0","y":0.75,"x":-1.68},{"p":6,"h":"h=0","y":0.7,"x":-1.73},{"p":6,"h":"h=0","y":0.65,"x":-1.68},{"p":6,"h":"h=0","y":0.6,"x":-1.56},{"p":6,"h":"h=0","y":0.55,"x":-1.34},{"p":6,"h":"h=0","y":0.5,"x":-1.04},{"p":6,"h":"h=0","y":0.45,"x":-0.69},{"p":6,"h":"h=0","y":0.4,"x":-0.35},{"p":6,"h":"h=0","y":0.35,"x":-0.02},{"p":6,"h":"h=0","y":0.3,"x":0.28},{"p":6,"h":"h=0","y":0.25,"x":0.52},{"p":6,"h":"h=0","y":0.2,"x":0.71},{"p":6,"h":"h=0","y":0.15,"x":0.85},{"p":6,"h":"h=0","y":0.1,"x":0.94},{"p":6,"h":"h=0","y":0.05,"x":1.01},{"p":6,"h":"h=0","y":0,"x":1.05},
      {"p":6,"h":"h=0.5x Bio","y":1,"x":0},{"p":6,"h":"h=0.5x Bio","y":0.95,"x":-0.17},{"p":6,"h":"h=0.5x Bio","y":0.9,"x":-0.5},{"p":6,"h":"h=0.5x Bio","y":0.85,"x":-0.94},{"p":6,"h":"h=0.5x Bio","y":0.8,"x":-1.31},{"p":6,"h":"h=0.5x Bio","y":0.75,"x":-1.54},{"p":6,"h":"h=0.5x Bio","y":0.7,"x":-1.66},{"p":6,"h":"h=0.5x Bio","y":0.65,"x":-1.67},{"p":6,"h":"h=0.5x Bio","y":0.6,"x":-1.56},{"p":6,"h":"h=0.5x Bio","y":0.55,"x":-1.39},{"p":6,"h":"h=0.5x Bio","y":0.5,"x":-1.13},{"p":6,"h":"h=0.5x Bio","y":0.45,"x":-0.81},{"p":6,"h":"h=0.5x Bio","y":0.4,"x":-0.48},{"p":6,"h":"h=0.5x Bio","y":0.35,"x":-0.15},{"p":6,"h":"h=0.5x Bio","y":0.3,"x":0.15},{"p":6,"h":"h=0.5x Bio","y":0.25,"x":0.4},{"p":6,"h":"h=0.5x Bio","y":0.2,"x":0.59},{"p":6,"h":"h=0.5x Bio","y":0.15,"x":0.75},{"p":6,"h":"h=0.5x Bio","y":0.1,"x":0.86},{"p":6,"h":"h=0.5x Bio","y":0.05,"x":0.94},{"p":6,"h":"h=0.5x Bio","y":0,"x":0.99},
      {"p":6,"h":"h=Bio","y":1,"x":0.02},{"p":6,"h":"h=Bio","y":0.95,"x":-0.02},{"p":6,"h":"h=Bio","y":0.9,"x":-0.2},{"p":6,"h":"h=Bio","y":0.85,"x":-0.59},{"p":6,"h":"h=Bio","y":0.8,"x":-1.01},{"p":6,"h":"h=Bio","y":0.75,"x":-1.34},{"p":6,"h":"h=Bio","y":0.7,"x":-1.53},{"p":6,"h":"h=Bio","y":0.65,"x":-1.6},{"p":6,"h":"h=Bio","y":0.6,"x":-1.56},{"p":6,"h":"h=Bio","y":0.55,"x":-1.44},{"p":6,"h":"h=Bio","y":0.5,"x":-1.21},{"p":6,"h":"h=Bio","y":0.45,"x":-0.92},{"p":6,"h":"h=Bio","y":0.4,"x":-0.59},{"p":6,"h":"h=Bio","y":0.35,"x":-0.28},{"p":6,"h":"h=Bio","y":0.3,"x":0.02},{"p":6,"h":"h=Bio","y":0.25,"x":0.28},{"p":6,"h":"h=Bio","y":0.2,"x":0.48},{"p":6,"h":"h=Bio","y":0.15,"x":0.64},{"p":6,"h":"h=Bio","y":0.1,"x":0.77},{"p":6,"h":"h=Bio","y":0.05,"x":0.86},{"p":6,"h":"h=Bio","y":0,"x":0.92},
      {"p":6,"h":"h=1.5x Bio","y":1,"x":0.03},{"p":6,"h":"h=1.5x Bio","y":0.95,"x":0.03},{"p":6,"h":"h=1.5x Bio","y":0.9,"x":-0.05},{"p":6,"h":"h=1.5x Bio","y":0.85,"x":-0.28},{"p":6,"h":"h=1.5x Bio","y":0.8,"x":-0.67},{"p":6,"h":"h=1.5x Bio","y":0.75,"x":-1.07},{"p":6,"h":"h=1.5x Bio","y":0.7,"x":-1.36},{"p":6,"h":"h=1.5x Bio","y":0.65,"x":-1.5},{"p":6,"h":"h=1.5x Bio","y":0.6,"x":-1.53},{"p":6,"h":"h=1.5x Bio","y":0.55,"x":-1.49},{"p":6,"h":"h=1.5x Bio","y":0.5,"x":-1.31},{"p":6,"h":"h=1.5x Bio","y":0.45,"x":-1.04},{"p":6,"h":"h=1.5x Bio","y":0.4,"x":-0.73},{"p":6,"h":"h=1.5x Bio","y":0.35,"x":-0.41},{"p":6,"h":"h=1.5x Bio","y":0.3,"x":-0.12},{"p":6,"h":"h=1.5x Bio","y":0.25,"x":0.14},{"p":6,"h":"h=1.5x Bio","y":0.2,"x":0.36},{"p":6,"h":"h=1.5x Bio","y":0.15,"x":0.53},{"p":6,"h":"h=1.5x Bio","y":0.1,"x":0.67},{"p":6,"h":"h=1.5x Bio","y":0.05,"x":0.77},{"p":6,"h":"h=1.5x Bio","y":0,"x":0.85},
      {"p":6,"h":"h=2x Bio","y":1,"x":0.05},{"p":6,"h":"h=2x Bio","y":0.95,"x":0.07},{"p":6,"h":"h=2x Bio","y":0.9,"x":0.08},{"p":6,"h":"h=2x Bio","y":0.85,"x":0.05},{"p":6,"h":"h=2x Bio","y":0.8,"x":-0.02},{"p":6,"h":"h=2x Bio","y":0.75,"x":-0.22},{"p":6,"h":"h=2x Bio","y":0.7,"x":-0.61},{"p":6,"h":"h=2x Bio","y":0.65,"x":-1.09},{"p":6,"h":"h=2x Bio","y":0.6,"x":-1.37},{"p":6,"h":"h=2x Bio","y":0.55,"x":-1.45},{"p":6,"h":"h=2x Bio","y":0.5,"x":-1.41},{"p":6,"h":"h=2x Bio","y":0.45,"x":-1.24},{"p":6,"h":"h=2x Bio","y":0.4,"x":-0.97},{"p":6,"h":"h=2x Bio","y":0.35,"x":-0.67},{"p":6,"h":"h=2x Bio","y":0.3,"x":-0.37},{"p":6,"h":"h=2x Bio","y":0.25,"x":-0.12},{"p":6,"h":"h=2x Bio","y":0.2,"x":0.12},{"p":6,"h":"h=2x Bio","y":0.15,"x":0.33},{"p":6,"h":"h=2x Bio","y":0.1,"x":0.51},{"p":6,"h":"h=2x Bio","y":0.05,"x":0.66},{"p":6,"h":"h=2x Bio","y":0,"x":0.77}
    ]
  },
  "spacing": -16,
  "vconcat": [
    {
      "spacing": 0,
      "bounds": "flush",
      "hconcat": [
        {
          "width": 1139, "height": 687,
          "layer": [
            {"data": {"name": "outline"}, "mark": {"type": "line", "stroke": "#b4b4b4", "strokeWidth": 9, "interpolate": "catmull-rom", "clip": true},
             "encoding": {
               "x": {"field": "x", "type": "quantitative", "scale": {"domain": [-4.055, 3.773], "nice": false, "zero": false},
                     "axis": {"values": [-2, -1, 0, 1, 2], "domain": false, "ticks": false, "grid": false, "offset": -116, "labelExpr": "'' + datum.value", "labelFont": "Liberation Sans", "labelFontSize": 30, "labelColor": "#222222", "labelPadding": 5, "title": "Non-dimensionsal x-Velocity", "titleFont": "Lato", "titleFontSize": 34, "titleFontStyle": "italic", "titleFontWeight": "normal", "titleColor": "#000000", "titlePadding": 26, "titleX": 590}},
               "y": {"field": "y", "type": "quantitative", "scale": {"domain": [-0.2152, 1.0594], "nice": false, "zero": false}, "axis": null},
               "order": {"field": "i", "type": "quantitative"}}},
            {"data": {"name": "zero"}, "transform": [{"filter": "datum.p == 1"}], "mark": {"type": "rule", "stroke": "#c62828", "strokeWidth": 2.5, "strokeDash": [11, 7]},
             "encoding": {"x": {"datum": 0, "type": "quantitative"}, "y": {"field": "top", "type": "quantitative"}, "y2": {"datum": 0}}},
            {"data": {"name": "ticks"}, "transform": [{"filter": "datum.x == -2"}], "mark": {"type": "rule", "stroke": "#555555", "strokeWidth": 2},
             "encoding": {"x": {"field": "x", "type": "quantitative"}, "x2": {"datum": 2.5}, "y": {"datum": 0, "type": "quantitative"}}},
            {"data": {"name": "ticks"}, "mark": {"type": "rule", "stroke": "#555555", "strokeWidth": 2},
             "encoding": {"x": {"field": "x", "type": "quantitative"}, "y": {"datum": 0, "type": "quantitative"}, "y2": {"datum": 0.016}}},
            {"data": {"name": "curves"}, "transform": [{"filter": "datum.p == 1"}], "mark": {"type": "line", "strokeWidth": 6, "interpolate": "catmull-rom"},
             "encoding": {
               "x": {"field": "x", "type": "quantitative"},
               "y": {"field": "y", "type": "quantitative"},
               "stroke": {"field": "h", "type": "nominal",
                          "scale": {"domain": ["h=0", "h=0.5x Bio", "h=Bio", "h=1.5x Bio", "h=2x Bio"], "range": ["#000000", "#480a84", "#1f3bf2", "#4e9ff5", "#89ac3a"]},
                          "legend": {"orient": "none", "legendX": 562, "legendY": 1672, "direction": "horizontal", "title": null, "symbolType": "stroke", "symbolSize": 10600, "symbolStrokeWidth": 14, "labelFont": "Liberation Sans", "labelFontSize": 79, "labelColor": "#000000", "labelOffset": 0, "columnPadding": 48, "labelLimit": 0, "padding": 0}},
               "order": {"field": "y", "type": "quantitative"}}}
          ]
        },
        {
          "width": 1126, "height": 687,
          "layer": [
            {"data": {"name": "outline"}, "mark": {"type": "line", "stroke": "#b4b4b4", "strokeWidth": 9, "interpolate": "catmull-rom", "clip": true},
             "encoding": {
               "x": {"field": "x", "type": "quantitative", "scale": {"domain": [-3.942, 3.797], "nice": false, "zero": false},
                     "axis": {"values": [-2, -1, 0, 1, 2], "domain": false, "ticks": false, "grid": false, "offset": -116, "labelExpr": "'' + datum.value", "labelFont": "Liberation Sans", "labelFontSize": 30, "labelColor": "#222222", "labelPadding": 5, "title": "Non-dimensionsal x-Velocity", "titleFont": "Lato", "titleFontSize": 34, "titleFontStyle": "italic", "titleFontWeight": "normal", "titleColor": "#000000", "titlePadding": 26, "titleX": 574}},
               "y": {"field": "y", "type": "quantitative", "scale": {"domain": [-0.2152, 1.0594], "nice": false, "zero": false}, "axis": null},
               "order": {"field": "i", "type": "quantitative"}}},
            {"data": {"name": "zero"}, "transform": [{"filter": "datum.p == 2"}], "mark": {"type": "rule", "stroke": "#c62828", "strokeWidth": 2.5, "strokeDash": [11, 7]},
             "encoding": {"x": {"datum": 0, "type": "quantitative"}, "y": {"field": "top", "type": "quantitative"}, "y2": {"datum": 0}}},
            {"data": {"name": "ticks"}, "transform": [{"filter": "datum.x == -2"}], "mark": {"type": "rule", "stroke": "#555555", "strokeWidth": 2},
             "encoding": {"x": {"field": "x", "type": "quantitative"}, "x2": {"datum": 2.5}, "y": {"datum": 0, "type": "quantitative"}}},
            {"data": {"name": "ticks"}, "mark": {"type": "rule", "stroke": "#555555", "strokeWidth": 2},
             "encoding": {"x": {"field": "x", "type": "quantitative"}, "y": {"datum": 0, "type": "quantitative"}, "y2": {"datum": 0.016}}},
            {"data": {"name": "curves"}, "transform": [{"filter": "datum.p == 2"}], "mark": {"type": "line", "strokeWidth": 6, "interpolate": "catmull-rom"},
             "encoding": {
               "x": {"field": "x", "type": "quantitative"},
               "y": {"field": "y", "type": "quantitative"},
               "stroke": {"field": "h", "type": "nominal",
                          "scale": {"domain": ["h=0", "h=0.5x Bio", "h=Bio", "h=1.5x Bio", "h=2x Bio"], "range": ["#000000", "#480a84", "#1f3bf2", "#4e9ff5", "#89ac3a"]},
                          "legend": {"orient": "none", "legendX": 562, "legendY": 1672, "direction": "horizontal", "title": null, "symbolType": "stroke", "symbolSize": 10600, "symbolStrokeWidth": 14, "labelFont": "Liberation Sans", "labelFontSize": 79, "labelColor": "#000000", "labelOffset": 0, "columnPadding": 48, "labelLimit": 0, "padding": 0}},
               "order": {"field": "y", "type": "quantitative"}}}
          ]
        },
        {
          "width": 1124, "height": 687,
          "layer": [
            {"data": {"name": "outline"}, "mark": {"type": "line", "stroke": "#b4b4b4", "strokeWidth": 9, "interpolate": "catmull-rom", "clip": true},
             "encoding": {
               "x": {"field": "x", "type": "quantitative", "scale": {"domain": [-3.924, 3.801], "nice": false, "zero": false},
                     "axis": {"values": [-2, -1, 0, 1, 2], "domain": false, "ticks": false, "grid": false, "offset": -116, "labelExpr": "'' + datum.value", "labelFont": "Liberation Sans", "labelFontSize": 30, "labelColor": "#222222", "labelPadding": 5, "title": "Non-dimensionsal x-Velocity", "titleFont": "Lato", "titleFontSize": 34, "titleFontStyle": "italic", "titleFontWeight": "normal", "titleColor": "#000000", "titlePadding": 26, "titleX": 571}},
               "y": {"field": "y", "type": "quantitative", "scale": {"domain": [-0.2152, 1.0594], "nice": false, "zero": false}, "axis": null},
               "order": {"field": "i", "type": "quantitative"}}},
            {"data": {"name": "zero"}, "transform": [{"filter": "datum.p == 3"}], "mark": {"type": "rule", "stroke": "#c62828", "strokeWidth": 2.5, "strokeDash": [11, 7]},
             "encoding": {"x": {"datum": 0, "type": "quantitative"}, "y": {"field": "top", "type": "quantitative"}, "y2": {"datum": 0}}},
            {"data": {"name": "ticks"}, "transform": [{"filter": "datum.x == -2"}], "mark": {"type": "rule", "stroke": "#555555", "strokeWidth": 2},
             "encoding": {"x": {"field": "x", "type": "quantitative"}, "x2": {"datum": 2.5}, "y": {"datum": 0, "type": "quantitative"}}},
            {"data": {"name": "ticks"}, "mark": {"type": "rule", "stroke": "#555555", "strokeWidth": 2},
             "encoding": {"x": {"field": "x", "type": "quantitative"}, "y": {"datum": 0, "type": "quantitative"}, "y2": {"datum": 0.016}}},
            {"data": {"name": "curves"}, "transform": [{"filter": "datum.p == 3"}], "mark": {"type": "line", "strokeWidth": 6, "interpolate": "catmull-rom"},
             "encoding": {
               "x": {"field": "x", "type": "quantitative"},
               "y": {"field": "y", "type": "quantitative"},
               "stroke": {"field": "h", "type": "nominal",
                          "scale": {"domain": ["h=0", "h=0.5x Bio", "h=Bio", "h=1.5x Bio", "h=2x Bio"], "range": ["#000000", "#480a84", "#1f3bf2", "#4e9ff5", "#89ac3a"]},
                          "legend": {"orient": "none", "legendX": 562, "legendY": 1672, "direction": "horizontal", "title": null, "symbolType": "stroke", "symbolSize": 10600, "symbolStrokeWidth": 14, "labelFont": "Liberation Sans", "labelFontSize": 79, "labelColor": "#000000", "labelOffset": 0, "columnPadding": 48, "labelLimit": 0, "padding": 0}},
               "order": {"field": "y", "type": "quantitative"}}}
          ]
        }
      ]
    },
    {
      "spacing": 0,
      "bounds": "flush",
      "hconcat": [
        {"width": 1139, "height": 102, "data": {"values": [{"t": "t = 0% T"}]}, "mark": {"type": "text", "font": "Liberation Sans", "fontSize": 56, "color": "#000000"}, "encoding": {"x": {"field": "t", "type": "nominal", "axis": null}, "y": {"field": "t", "type": "nominal", "axis": null}, "text": {"field": "t", "type": "nominal"}}},
        {"width": 1126, "height": 102, "data": {"values": [{"t": "t = 20% T"}]}, "mark": {"type": "text", "font": "Liberation Sans", "fontSize": 56, "color": "#000000"}, "encoding": {"x": {"field": "t", "type": "nominal", "axis": null}, "y": {"field": "t", "type": "nominal", "axis": null}, "text": {"field": "t", "type": "nominal"}}},
        {"width": 1124, "height": 102, "data": {"values": [{"t": "t = 40% T"}]}, "mark": {"type": "text", "font": "Liberation Sans", "fontSize": 56, "color": "#000000"}, "encoding": {"x": {"field": "t", "type": "nominal", "axis": null}, "y": {"field": "t", "type": "nominal", "axis": null}, "text": {"field": "t", "type": "nominal"}}}
      ]
    },
    {
      "spacing": 0,
      "bounds": "flush",
      "hconcat": [
        {
          "width": 1139, "height": 750,
          "layer": [
            {"data": {"name": "outline"}, "mark": {"type": "line", "stroke": "#b4b4b4", "strokeWidth": 9, "interpolate": "catmull-rom", "clip": true},
             "encoding": {
               "x": {"field": "x", "type": "quantitative", "scale": {"domain": [-4.055, 3.773], "nice": false, "zero": false},
                     "axis": {"values": [-2, -1, 0, 1, 2], "domain": false, "ticks": false, "grid": false, "offset": -134, "labelExpr": "'' + datum.value", "labelFont": "Liberation Sans", "labelFontSize": 30, "labelColor": "#222222", "labelPadding": 5, "title": "Non-dimensionsal x-Velocity", "titleFont": "Lato", "titleFontSize": 34, "titleFontStyle": "italic", "titleFontWeight": "normal", "titleColor": "#000000", "titlePadding": 26, "titleX": 592}},
               "y": {"field": "y", "type": "quantitative", "scale": {"domain": [-0.2486, 1.1429], "nice": false, "zero": false}, "axis": null},
               "order": {"field": "i", "type": "quantitative"}}},
            {"data": {"name": "zero"}, "transform": [{"filter": "datum.p == 4"}], "mark": {"type": "rule", "stroke": "#c62828", "strokeWidth": 2.5, "strokeDash": [11, 7]},
             "encoding": {"x": {"datum": 0, "type": "quantitative"}, "y": {"field": "top", "type": "quantitative"}, "y2": {"datum": 0}}},
            {"data": {"name": "ticks"}, "transform": [{"filter": "datum.x == -2"}], "mark": {"type": "rule", "stroke": "#555555", "strokeWidth": 2},
             "encoding": {"x": {"field": "x", "type": "quantitative"}, "x2": {"datum": 2.5}, "y": {"datum": 0, "type": "quantitative"}}},
            {"data": {"name": "ticks"}, "mark": {"type": "rule", "stroke": "#555555", "strokeWidth": 2},
             "encoding": {"x": {"field": "x", "type": "quantitative"}, "y": {"datum": 0, "type": "quantitative"}, "y2": {"datum": 0.016}}},
            {"data": {"name": "curves"}, "transform": [{"filter": "datum.p == 4"}], "mark": {"type": "line", "strokeWidth": 6, "interpolate": "catmull-rom"},
             "encoding": {
               "x": {"field": "x", "type": "quantitative"},
               "y": {"field": "y", "type": "quantitative"},
               "stroke": {"field": "h", "type": "nominal",
                          "scale": {"domain": ["h=0", "h=0.5x Bio", "h=Bio", "h=1.5x Bio", "h=2x Bio"], "range": ["#000000", "#480a84", "#1f3bf2", "#4e9ff5", "#89ac3a"]},
                          "legend": {"orient": "none", "legendX": 562, "legendY": 1672, "direction": "horizontal", "title": null, "symbolType": "stroke", "symbolSize": 10600, "symbolStrokeWidth": 14, "labelFont": "Liberation Sans", "labelFontSize": 79, "labelColor": "#000000", "labelOffset": 0, "columnPadding": 48, "labelLimit": 0, "padding": 0}},
               "order": {"field": "y", "type": "quantitative"}}}
          ]
        },
        {
          "width": 1126, "height": 750,
          "layer": [
            {"data": {"name": "outline"}, "mark": {"type": "line", "stroke": "#b4b4b4", "strokeWidth": 9, "interpolate": "catmull-rom", "clip": true},
             "encoding": {
               "x": {"field": "x", "type": "quantitative", "scale": {"domain": [-3.942, 3.797], "nice": false, "zero": false},
                     "axis": {"values": [-2, -1, 0, 1, 2], "domain": false, "ticks": false, "grid": false, "offset": -134, "labelExpr": "'' + datum.value", "labelFont": "Liberation Sans", "labelFontSize": 30, "labelColor": "#222222", "labelPadding": 5, "title": "Non-dimensionsal x-Velocity", "titleFont": "Lato", "titleFontSize": 34, "titleFontStyle": "italic", "titleFontWeight": "normal", "titleColor": "#000000", "titlePadding": 26, "titleX": 580}},
               "y": {"field": "y", "type": "quantitative", "scale": {"domain": [-0.2486, 1.1429], "nice": false, "zero": false}, "axis": null},
               "order": {"field": "i", "type": "quantitative"}}},
            {"data": {"name": "zero"}, "transform": [{"filter": "datum.p == 5"}], "mark": {"type": "rule", "stroke": "#c62828", "strokeWidth": 2.5, "strokeDash": [11, 7]},
             "encoding": {"x": {"datum": 0, "type": "quantitative"}, "y": {"field": "top", "type": "quantitative"}, "y2": {"datum": 0}}},
            {"data": {"name": "ticks"}, "transform": [{"filter": "datum.x == -2"}], "mark": {"type": "rule", "stroke": "#555555", "strokeWidth": 2},
             "encoding": {"x": {"field": "x", "type": "quantitative"}, "x2": {"datum": 2.5}, "y": {"datum": 0, "type": "quantitative"}}},
            {"data": {"name": "ticks"}, "mark": {"type": "rule", "stroke": "#555555", "strokeWidth": 2},
             "encoding": {"x": {"field": "x", "type": "quantitative"}, "y": {"datum": 0, "type": "quantitative"}, "y2": {"datum": 0.016}}},
            {"data": {"name": "curves"}, "transform": [{"filter": "datum.p == 5"}], "mark": {"type": "line", "strokeWidth": 6, "interpolate": "catmull-rom"},
             "encoding": {
               "x": {"field": "x", "type": "quantitative"},
               "y": {"field": "y", "type": "quantitative"},
               "stroke": {"field": "h", "type": "nominal",
                          "scale": {"domain": ["h=0", "h=0.5x Bio", "h=Bio", "h=1.5x Bio", "h=2x Bio"], "range": ["#000000", "#480a84", "#1f3bf2", "#4e9ff5", "#89ac3a"]},
                          "legend": {"orient": "none", "legendX": 562, "legendY": 1672, "direction": "horizontal", "title": null, "symbolType": "stroke", "symbolSize": 10600, "symbolStrokeWidth": 14, "labelFont": "Liberation Sans", "labelFontSize": 79, "labelColor": "#000000", "labelOffset": 0, "columnPadding": 48, "labelLimit": 0, "padding": 0}},
               "order": {"field": "y", "type": "quantitative"}}}
          ]
        },
        {
          "width": 1124, "height": 750,
          "layer": [
            {"data": {"name": "outline"}, "mark": {"type": "line", "stroke": "#b4b4b4", "strokeWidth": 9, "interpolate": "catmull-rom", "clip": true},
             "encoding": {
               "x": {"field": "x", "type": "quantitative", "scale": {"domain": [-3.924, 3.801], "nice": false, "zero": false},
                     "axis": {"values": [-2, -1, 0, 1, 2], "domain": false, "ticks": false, "grid": false, "offset": -134, "labelExpr": "'' + datum.value", "labelFont": "Liberation Sans", "labelFontSize": 30, "labelColor": "#222222", "labelPadding": 5, "title": "Non-dimensionsal x-Velocity", "titleFont": "Lato", "titleFontSize": 34, "titleFontStyle": "italic", "titleFontWeight": "normal", "titleColor": "#000000", "titlePadding": 26, "titleX": 574}},
               "y": {"field": "y", "type": "quantitative", "scale": {"domain": [-0.2486, 1.1429], "nice": false, "zero": false}, "axis": null},
               "order": {"field": "i", "type": "quantitative"}}},
            {"data": {"name": "zero"}, "transform": [{"filter": "datum.p == 6"}], "mark": {"type": "rule", "stroke": "#c62828", "strokeWidth": 2.5, "strokeDash": [11, 7]},
             "encoding": {"x": {"datum": 0, "type": "quantitative"}, "y": {"field": "top", "type": "quantitative"}, "y2": {"datum": 0}}},
            {"data": {"name": "ticks"}, "transform": [{"filter": "datum.x == -2"}], "mark": {"type": "rule", "stroke": "#555555", "strokeWidth": 2},
             "encoding": {"x": {"field": "x", "type": "quantitative"}, "x2": {"datum": 2.5}, "y": {"datum": 0, "type": "quantitative"}}},
            {"data": {"name": "ticks"}, "mark": {"type": "rule", "stroke": "#555555", "strokeWidth": 2},
             "encoding": {"x": {"field": "x", "type": "quantitative"}, "y": {"datum": 0, "type": "quantitative"}, "y2": {"datum": 0.016}}},
            {"data": {"name": "curves"}, "transform": [{"filter": "datum.p == 6"}], "mark": {"type": "line", "strokeWidth": 6, "interpolate": "catmull-rom"},
             "encoding": {
               "x": {"field": "x", "type": "quantitative"},
               "y": {"field": "y", "type": "quantitative"},
               "stroke": {"field": "h", "type": "nominal",
                          "scale": {"domain": ["h=0", "h=0.5x Bio", "h=Bio", "h=1.5x Bio", "h=2x Bio"], "range": ["#000000", "#480a84", "#1f3bf2", "#4e9ff5", "#89ac3a"]},
                          "legend": {"orient": "none", "legendX": 562, "legendY": 1672, "direction": "horizontal", "title": null, "symbolType": "stroke", "symbolSize": 10600, "symbolStrokeWidth": 14, "labelFont": "Liberation Sans", "labelFontSize": 79, "labelColor": "#000000", "labelOffset": 0, "columnPadding": 48, "labelLimit": 0, "padding": 0}},
               "order": {"field": "y", "type": "quantitative"}}}
          ]
        }
      ]
    },
    {
      "spacing": 0,
      "bounds": "flush",
      "hconcat": [
        {"width": 1139, "height": 117, "data": {"values": [{"t": "t = 60% T"}]}, "mark": {"type": "text", "font": "Liberation Sans", "fontSize": 56, "color": "#000000"}, "encoding": {"x": {"field": "t", "type": "nominal", "axis": null}, "y": {"field": "t", "type": "nominal", "axis": null}, "text": {"field": "t", "type": "nominal"}}},
        {"width": 1126, "height": 117, "data": {"values": [{"t": "t = 80% T"}]}, "mark": {"type": "text", "font": "Liberation Sans", "fontSize": 56, "color": "#000000"}, "encoding": {"x": {"field": "t", "type": "nominal", "axis": null}, "y": {"field": "t", "type": "nominal", "axis": null}, "text": {"field": "t", "type": "nominal"}}},
        {"width": 1124, "height": 117, "data": {"values": [{"t": "t = 100% T"}]}, "mark": {"type": "text", "font": "Liberation Sans", "fontSize": 56, "color": "#000000"}, "encoding": {"x": {"field": "t", "type": "nominal", "axis": null}, "y": {"field": "t", "type": "nominal", "axis": null}, "text": {"field": "t", "type": "nominal"}}}
      ]
    },
    {"width": 3389, "height": 136, "data": {"values": [{"t": ""}]}, "mark": {"type": "text"}, "encoding": {"x": {"field": "t", "type": "nominal", "axis": null}, "y": {"field": "t", "type": "nominal", "axis": null}, "text": {"field": "t", "type": "nominal"}}}
  ]
}
